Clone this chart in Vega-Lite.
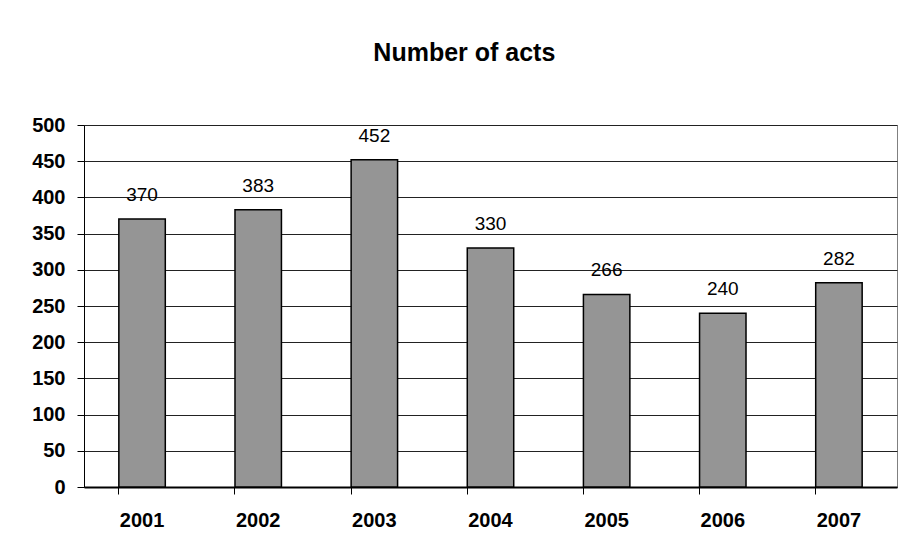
{
  "$schema": "https://vega.github.io/schema/vega-lite/v6.json",
  "width": 813,
  "height": 362,
  "autosize": {"type": "none"},
  "padding": {"left": 84, "top": 125, "right": 1, "bottom": 64},
  "background": "white",
  "title": {
    "text": "Number of acts",
    "font": "Liberation Sans",
    "fontSize": 25,
    "fontWeight": "bold",
    "color": "black",
    "anchor": "middle",
    "frame": "bounds",
    "baseline": "alphabetic",
    "offset": 29
  },
  "config": {
    "font": "Liberation Sans",
    "view": {"stroke": "#808080", "strokeWidth": 1}
  },
  "data": {
    "values": [
      {"year": "2001", "acts": 370},
      {"year": "2002", "acts": 383},
      {"year": "2003", "acts": 452},
      {"year": "2004", "acts": 330},
      {"year": "2005", "acts": 266},
      {"year": "2006", "acts": 240},
      {"year": "2007", "acts": 282}
    ]
  },
  "encoding": {
    "x": {
      "field": "year",
      "type": "ordinal",
      "scale": {"paddingInner": 0.6, "paddingOuter": 0.3},
      "axis": {
        "title": null,
        "labelAngle": 0,
        "labelFont": "Liberation Sans",
        "labelFontSize": 20,
        "labelFontWeight": "bold",
        "labelColor": "black",
        "labelPadding": 16,
        "bandPosition": 0,
        "ticks": true,
        "tickSize": 7,
        "tickColor": "black",
        "domainColor": "black",
        "domainWidth": 2,
        "grid": false
      }
    },
    "y": {
      "field": "acts",
      "type": "quantitative",
      "scale": {"domain": [0, 500], "nice": false},
      "axis": {
        "title": null,
        "values": [0, 50, 100, 150, 200, 250, 300, 350, 400, 450, 500],
        "labelFont": "Liberation Sans",
        "labelFontSize": 20,
        "labelFontWeight": "bold",
        "labelColor": "black",
        "labelPadding": 12,
        "tickSize": 7,
        "tickColor": "black",
        "domainColor": "black",
        "grid": true,
        "gridColor": "#222222",
        "gridWidth": 1
      }
    }
  },
  "layer": [
    {
      "mark": {"type": "bar", "fill": "#959595", "stroke": "black", "strokeWidth": 1.5}
    },
    {
      "mark": {
        "type": "text",
        "font": "Liberation Sans",
        "fontSize": 19,
        "color": "black",
        "baseline": "alphabetic",
        "align": "center",
        "dy": -18
      },
      "encoding": {"text": {"field": "acts", "type": "quantitative"}}
    }
  ]
}
